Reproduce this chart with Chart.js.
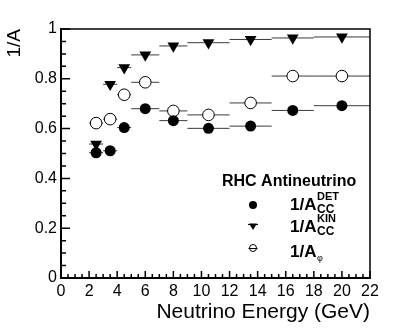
<!DOCTYPE html>
<html>
<head>
<meta charset="utf-8">
<script src="https://cdn.jsdelivr.net/npm/chart.js@4.4.1/dist/chart.umd.min.js"></script>
<style>
  html, body { margin: 0; padding: 0; background: #fff; }
  #wrap { width: 407px; height: 328px; position: relative; }
</style>
</head>
<body>
<div id="wrap"><canvas id="chart"></canvas></div>
<script>
// energy bins (GeV)
const binLow = [2, 3, 4, 5, 7, 9, 12, 15, 18];
const binHigh = [3, 4, 5, 7, 9, 12, 15, 18, 22];
const energy = [2.5, 3.5, 4.5, 6, 8, 10.5, 13.5, 16.5, 20];

// 1/A values
const invAccDet = [0.503, 0.511, 0.604, 0.680, 0.632, 0.601, 0.610, 0.673, 0.692];
const invAccKin = [0.538, 0.778, 0.845, 0.896, 0.932, 0.945, 0.958, 0.964, 0.968];
const invAccPhi = [0.622, 0.638, 0.736, 0.786, 0.671, 0.655, 0.703, 0.811, 0.811];

const xTickLabels = [0, 2, 4, 6, 8, 10, 12, 14, 16, 18, 20, 22];
const yTickLabels = [0, 0.2, 0.4, 0.6, 0.8, 1];

const FONT = "'Liberation Sans', Arial, Helvetica, sans-serif";

function toPoints(values) {
  return values.map((v, i) => ({ x: energy[i], y: v }));
}

// horizontal bin-width bars, drawn under the markers
const binBars = {
  id: "binBars",
  beforeDatasetsDraw(chart) {
    const { ctx, scales: { x, y } } = chart;
    ctx.save();
    ctx.strokeStyle = "#3a3a3a";
    ctx.lineWidth = 1;
    [invAccDet, invAccKin, invAccPhi].forEach((series) => {
      series.forEach((v, i) => {
        const py = y.getPixelForValue(v);
        ctx.beginPath();
        ctx.moveTo(x.getPixelForValue(binLow[i]), py);
        ctx.lineTo(x.getPixelForValue(binHigh[i]), py);
        ctx.stroke();
      });
    });
    ctx.restore();
  },
};

// ROOT-like frame with inward ticks, plus the legend block
const frameAndLegend = {
  id: "frameAndLegend",
  afterDraw(chart) {
    const { ctx, chartArea: a, scales: { x, y } } = chart;
    ctx.save();
    ctx.strokeStyle = "#000";

    // thin top / right frame
    ctx.lineWidth = 1.5;
    ctx.beginPath();
    ctx.moveTo(a.left, a.top);
    ctx.lineTo(a.right, a.top);
    ctx.lineTo(a.right, a.bottom);
    ctx.stroke();

    // axes
    ctx.lineWidth = 2;
    ctx.beginPath();
    ctx.moveTo(a.left, a.top - 1);
    ctx.lineTo(a.left, a.bottom);
    ctx.lineTo(a.right + 1, a.bottom);
    ctx.stroke();

    // ticks
    ctx.lineWidth = 1.5;
    ctx.beginPath();
    for (let k = 0; k <= 20; k++) {
      const py = y.getPixelForValue(k * 0.05);
      const len = k % 4 === 0 ? 9 : 5;
      ctx.moveTo(a.left, py);
      ctx.lineTo(a.left + len, py);
    }
    for (let k = 0; k <= 44; k++) {
      const px = x.getPixelForValue(k * 0.5);
      const len = k % 4 === 0 ? 7 : 4;
      ctx.moveTo(px, a.bottom);
      ctx.lineTo(px, a.bottom - len);
    }
    ctx.stroke();

    // legend
    ctx.fillStyle = "#000";
    ctx.textBaseline = "alphabetic";
    ctx.textAlign = "left";
    ctx.font = "bold 16px " + FONT;
    ctx.fillText("RHC Antineutrino", 222, 186);

    const mx = 253;
    // filled circle
    ctx.beginPath();
    ctx.arc(mx, 205, 4, 0, Math.PI * 2);
    ctx.fill();
    // triangle down with bar
    ctx.lineWidth = 1;
    ctx.beginPath();
    ctx.moveTo(mx - 5, 224.5);
    ctx.lineTo(mx + 5, 224.5);
    ctx.stroke();
    ctx.beginPath();
    ctx.moveTo(mx - 4, 223.5);
    ctx.lineTo(mx + 4, 223.5);
    ctx.lineTo(mx, 230);
    ctx.closePath();
    ctx.fill();
    // open circle with bar
    ctx.beginPath();
    ctx.arc(mx, 248, 3.5, 0, Math.PI * 2);
    ctx.stroke();
    ctx.beginPath();
    ctx.moveTo(mx - 4.5, 248.5);
    ctx.lineTo(mx + 4.5, 248.5);
    ctx.stroke();

    const entries = [
      { base: 210, sup: "DET", sub: "CC" },
      { base: 232, sup: "KIN", sub: "CC" },
      { base: 257, sup: "", sub: "\u03C6" },
    ];
    entries.forEach((e) => {
      ctx.font = "bold 17px " + FONT;
      ctx.fillText("1/A", 290, e.base);
      if (e.sup) {
        ctx.font = "bold 11px " + FONT;
        ctx.fillText(e.sup, 317, e.base - 10);
      }
      if (e.sub === "CC") {
        ctx.font = "bold 12px " + FONT;
        ctx.fillText(e.sub, 317, e.base + 3);
      } else {
        ctx.font = "9px " + FONT;
        ctx.fillText(e.sub, 317, e.base + 4);
      }
    });
    ctx.restore();
  },
};

new Chart(document.getElementById("chart"), {
  type: "scatter",
  data: {
    datasets: [
      {
        label: "1/A DET CC",
        data: toPoints(invAccDet),
        pointStyle: "circle",
        pointRadius: 5.5,
        backgroundColor: "#000",
        borderColor: "#000",
        borderWidth: 0,
      },
      {
        label: "1/A KIN CC",
        data: toPoints(invAccKin),
        pointStyle: "triangle",
        pointRotation: 180,
        pointRadius: 6.8,
        backgroundColor: "#000",
        borderColor: "#000",
        borderWidth: 0,
      },
      {
        label: "1/A phi",
        data: toPoints(invAccPhi),
        pointStyle: "circle",
        pointRadius: 5.8,
        backgroundColor: "#fff",
        borderColor: "#000",
        borderWidth: 1,
      },
    ],
  },
  options: {
    responsive: true,
    maintainAspectRatio: false,
    animation: false,
    layout: { padding: { top: 29, right: 37, left: 0, bottom: 0 } },
    plugins: {
      legend: { display: false },
      tooltip: { enabled: false },
    },
    scales: {
      x: {
        type: "linear",
        min: 0,
        max: 22,
        afterFit: (s) => { s.height = 50; },
        afterBuildTicks: (s) => { s.ticks = xTickLabels.map((v) => ({ value: v })); },
        grid: { display: false, drawTicks: false },
        border: { display: false },
        ticks: {
          color: "#000",
          font: { family: FONT, size: 16 },
          padding: 4,
          maxRotation: 0,
          autoSkip: false,
        },
        title: {
          display: true,
          text: "Neutrino Energy (GeV)",
          align: "end",
          color: "#000",
          font: { family: FONT, size: 21 },
          padding: { top: 0, bottom: 3 },
        },
      },
      y: {
        type: "linear",
        min: 0,
        max: 1,
        afterFit: (s) => { s.width = 61; },
        afterBuildTicks: (s) => { s.ticks = yTickLabels.map((v) => ({ value: v })); },
        grid: { display: false, drawTicks: false },
        border: { display: false },
        ticks: {
          color: "#000",
          font: { family: FONT, size: 16 },
          padding: 4,
          callback: (v) => String(v),
        },
        title: {
          display: true,
          text: "1/A",
          align: "end",
          color: "#000",
          font: { family: FONT, size: 19 },
          padding: { top: 3, bottom: 0 },
        },
      },
    },
  },
  plugins: [binBars, frameAndLegend],
});
</script>
</body>
</html>
